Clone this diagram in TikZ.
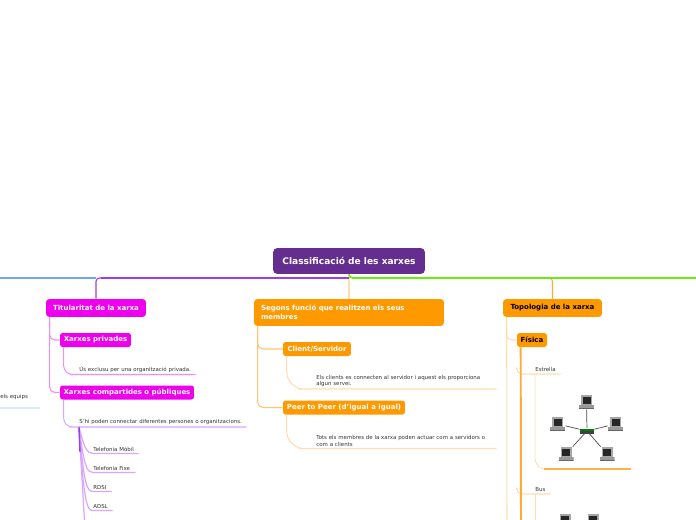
\documentclass[tikz,border=0pt]{standalone}
\usepackage{fontspec}
\setmainfont{DejaVu Sans}
\usetikzlibrary{arrows.meta,positioning,calc}
\definecolor{titlepurple}{HTML}{662D91}
\definecolor{magentabox}{HTML}{EE00EE}
\definecolor{orangebox}{HTML}{FF9900}
\definecolor{softmagenta}{HTML}{F58CF5}
\definecolor{softviolet}{HTML}{D9A6FF}
\definecolor{softorange}{HTML}{FFDDB0}
\definecolor{midorange}{HTML}{FFAA33}
\definecolor{softblue}{HTML}{DCEBF8}
\definecolor{mainblue}{HTML}{6FA8E8}
\definecolor{mainviolet}{HTML}{9A3CF0}
\definecolor{maingreen}{HTML}{66EE11}
\definecolor{darktext}{HTML}{333333}
\newcommand{\fonttitle}{\fontsize{5.15}{6.2}\selectfont\bfseries}
\newcommand{\fonthead}{\fontsize{3.98}{5.1}\selectfont\bfseries}
\newcommand{\fontleaf}{\fontsize{3.1}{3.75}\selectfont}
\tikzset{
  titlenode/.style={rounded corners=2.5pt,fill=titlepurple,text=white,minimum width=3.04cm,minimum height=0.52cm,inner sep=0pt,align=center,font=\fonttitle},
  headnode/.style={rounded corners=2pt,minimum height=0.36cm,inner sep=0pt,align=center,font=\fonthead},
  subnode/.style={rounded corners=1.5pt,minimum height=0.28cm,inner sep=0pt,align=center,font=\fonthead},
  leafnode/.style={anchor=south west,inner xsep=0pt,inner ysep=1pt,align=left,text=darktext,font=\fontleaf},
  pcnode/.style={minimum width=0.3cm,minimum height=0.28cm,inner sep=0pt,
    path picture={
      \fill[gray!70] ([xshift=0.04cm]path picture bounding box.north west) rectangle ([xshift=-0.04cm,yshift=0.09cm]path picture bounding box.south east);
      \fill[black!85] ([xshift=0.07cm,yshift=-0.03cm]path picture bounding box.north west) rectangle ([xshift=-0.07cm,yshift=0.11cm]path picture bounding box.south east);
      \fill[gray!80] ([yshift=0.09cm]path picture bounding box.south west) rectangle ([yshift=0.02cm]path picture bounding box.south east);
      \fill[black!60] (path picture bounding box.south west) rectangle ([yshift=0.03cm]path picture bounding box.south east);
    }},
  hubnode/.style={fill=black!75,minimum width=0.28cm,minimum height=0.1cm,inner sep=0pt,path picture={\fill[green!50!black] (path picture bounding box.north west) rectangle ([yshift=0.01cm]path picture bounding box.east);}},
  softline/.style={line width=0.6pt,rounded corners=3pt},
  mainline/.style={line width=0.9pt,rounded corners=2pt},
  wire/.style={line width=0.4pt,black!70}
}
\begin{document}
\begin{tikzpicture}[x=0.02cm,y=-0.02cm]
  \clip (0,0) rectangle (696,520);

  \node[titlenode] (title) at (349,261) {Classificació de les xarxes};
  \coordinate (mainjoin) at (349,278);
  \coordinate (blueend) at (-10,278);
  \coordinate (greenend) at (706,278);

  % Titularitat
  \node[headnode,fill=magentabox,text=white,minimum width=2cm] (titu) at (96,308) {Titularitat de la xarxa};
  \node[subnode,fill=magentabox,text=white,minimum width=1.42cm] (priv) at (95.5,340) {Xarxes privades};
  \node[subnode,fill=magentabox,text=white,minimum width=2.68cm] (comp) at (127,392.5) {Xarxes compartides o públiques};
  \node[leafnode,text width=2.32cm] (us) at (79,374.5) {Ús exclusu per una organització privada.};
  \node[leafnode,text width=3.34cm] (shi) at (79,427) {S'hi poden connectar diferentes persones o organitzacions.};
  \node[leafnode,text width=0.9cm] (mobil) at (93,453.5) {Telefonia Mòbil};
  \node[leafnode,text width=0.84cm] (fixe) at (93,472.5) {Telefonia Fixe};
  \node[leafnode,text width=0.36cm] (rdsi) at (93,491.5) {RDSI};
  \node[leafnode,text width=0.38cm] (adsl) at (93,510.5) {ADSL};
  \coordinate (fanend) at (85,530);
  \node[leafnode,text width=0.78cm] (equips) at (0,408) {els equips\\[0.4pt]\mbox{}};

  % Segons funcio
  \node[headnode,fill=orangebox,text=white,minimum height=0.54cm,text width=3.52cm,inner xsep=0.14cm,align=left] (segons) at (349,312.5) {Segons funció que realitzen els seus\\membres};
  \node[subnode,fill=orangebox,text=white,minimum width=1.36cm] (client) at (317,349) {Client/Servidor};
  \node[subnode,fill=orangebox,text=white,minimum width=2.44cm] (peer) at (344,407.5) {Peer to Peer (d'igual a igual)};
  \node[leafnode,text width=3.6cm] (els) at (316,389) {Els clients es connecten al servidor i aquest els proporciona\\algun servei.};
  \node[leafnode,text width=3.6cm] (tots) at (316,448.5) {Tots els membres de la xarxa poden actuar com a servidors o\\com a clients};

  % Topologia
  \node[headnode,fill=orangebox,minimum width=1.98cm] (topo) at (552.5,308) {Topologia de la xarxa};
  \node[subnode,fill=orangebox,minimum width=0.6cm] (fisica) at (532,340) {Física};
  \node[leafnode,text width=0.5cm] (estrella) at (535,374) {Estrella};
  \node[leafnode,text width=0.3cm] (bus) at (535,494) {Bus};
  \node[anchor=south west,minimum width=1.72cm,minimum height=1.6cm,inner sep=0pt] (starimg) at (544,469) {};
  \coordinate (fiscend) at (521,530);
  \coordinate (topoend) at (507,530);
  \coordinate (busend) at (535,530);

  \node[hubnode] (hub) at (587,431) {};
  \node[pcnode] (pcup) at (586.5,402) {};
  \node[pcnode] (pcleft) at (557.5,424) {};
  \node[pcnode] (pcright) at (615.5,424) {};
  \node[pcnode] (pcdl) at (566,454) {};
  \node[pcnode] (pcdr) at (607,454) {};
  \node[pcnode] (pcba) at (565,521) {};
  \node[pcnode] (pcbb) at (593,521) {};
  \foreach \pc in {pcup,pcleft,pcright,pcdl,pcdr}
    \draw[wire] (hub) -- (\pc);

  % main lines
  \draw[mainline,midorange,line width=0.6pt] (title.south) -- (mainjoin) -| (topo.north);
  \draw[softline,softorange,line width=0.7pt] (title.south) -- (segons.north);
  \draw[mainline,mainviolet,line width=0.6pt] ([xshift=1cm]mainjoin -| titu.north) -| (titu.north);
  \draw[mainline,mainviolet] (mainjoin) -- ([xshift=0.1cm]mainjoin -| titu.north);
  \draw[mainline,mainblue] (mainjoin -| titu.north) -- (blueend);
  \draw[mainline,maingreen] (title.south) |- (greenend);

  % left branch
  \draw[softline,softmagenta] ([xshift=2.3pt]titu.south west) |- (priv.west);
  \draw[softline,softmagenta] ([xshift=2.3pt]titu.south west) |- (comp.west);
  \draw[softline,softmagenta,rounded corners=5pt] ([xshift=2.3pt]priv.south west) |- (us.south west) -- (us.south east);
  \draw[softline,softviolet,rounded corners=5pt] ([xshift=2.3pt]comp.south west) |- (shi.south west) -- (shi.south east);
  \draw[softblue,line width=0.8pt] (equips.south west) -- (equips.south east);
  \foreach \leaf in {mobil,fixe,rdsi,adsl} {
    \draw[softviolet,line width=0.7pt] (shi.south west) .. controls ($(\leaf.south west)+(-9,-6)$) and ($(\leaf.south west)+(-6,0)$) .. (\leaf.south west) -- (\leaf.south east);
  }
  \draw[softviolet,line width=0.7pt] (shi.south west) -- (fanend);
  \draw[mainviolet,line width=0.8pt] (shi.south west) -- ([xshift=0.02cm,yshift=-0.5cm]shi.south west);

  % middle branch
  \draw[softline,midorange!70!white] ([xshift=2.3pt]segons.south west) |- (client.west);
  \draw[softline,midorange!70!white] ([xshift=2.3pt]segons.south west) |- (peer.west);
  \draw[softline,softorange,rounded corners=10pt] ([xshift=2.3pt]client.south west) |- (els.south west) -- (els.south east);
  \draw[softline,softorange,rounded corners=10pt] ([xshift=2.3pt]peer.south west) |- (tots.south west) -- (tots.south east);

  % right branch
  \draw[softline,softorange] ([xshift=2.3pt]topo.south west) -- (topoend);
  \draw[softline,softorange] ([xshift=2.3pt]topo.south west) |- (fisica.west);
  \draw[softline,softorange] ([yshift=-0.4cm]fisica.south west) |- (estrella.south west) -- (estrella.south east);
  \draw[softline,softorange] ([yshift=-2.8cm]fisica.south west) |- (bus.south west) -- (bus.south east);
  \draw[midorange,line width=1.1pt] ([xshift=2.3pt]fisica.south west) -- (fiscend);
  \draw[softorange,line width=0.5pt,rounded corners=6pt] (estrella.south west) |- (starimg.south west);
  \draw[midorange!90!white,line width=1.6pt] (starimg.south west) -- (starimg.south east);
  \draw[softorange,line width=0.5pt] (bus.south west) -- (busend);
\end{tikzpicture}
\end{document}
